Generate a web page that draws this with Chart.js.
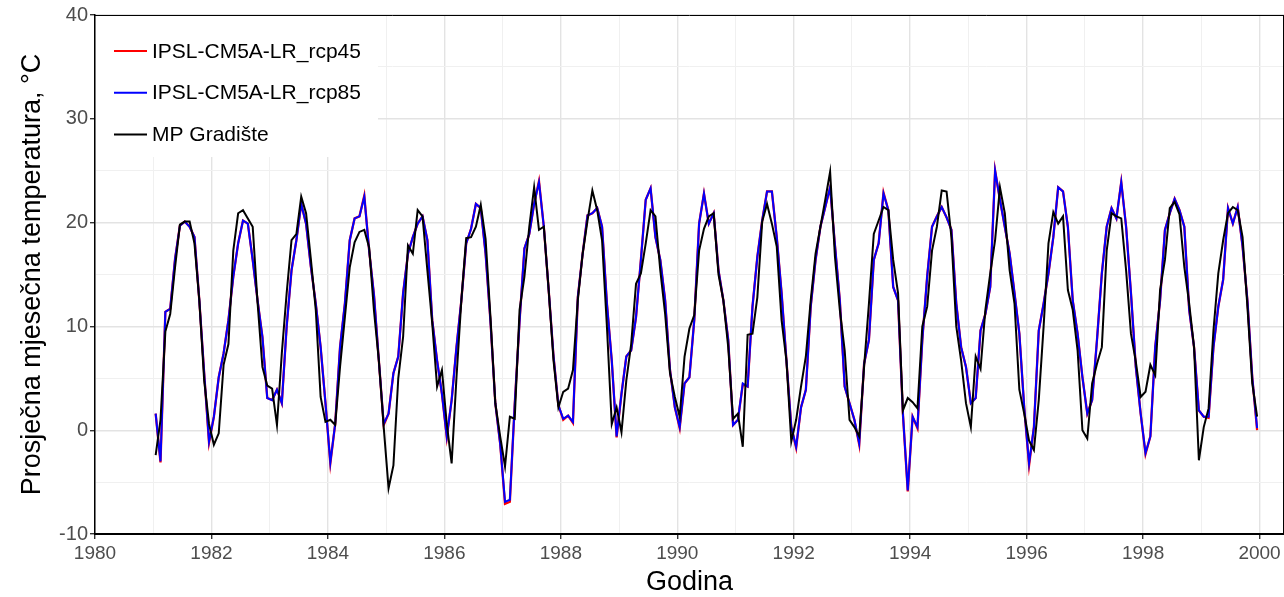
<!DOCTYPE html>
<html>
<head>
<meta charset="utf-8">
<script src="https://cdn.jsdelivr.net/npm/chart.js@4.4.1/dist/chart.umd.min.js"></script>
<style>
  html, body { margin: 0; padding: 0; background: #fff; }
  #wrap { width: 1284px; height: 597px; }
</style>
</head>
<body>
<div id="wrap"><canvas id="myChart" width="1284" height="597"></canvas></div>
<script>
const ctx = document.getElementById('myChart');

const years = [1981, 1982, 1983, 1984, 1985, 1986, 1987, 1988, 1989, 1990,
  1991, 1992, 1993, 1994, 1995, 1996, 1997, 1998, 1999]
const seriesNames = ['IPSL-CM5A-LR_rcp45', 'IPSL-CM5A-LR_rcp85', 'MP Gradište']
const xTicks = [1980, 1982, 1984, 1986, 1988, 1990, 1992, 1994, 1996, 1998, 2000]
const yTicks = [-10, 0, 10, 20, 30, 40]

// monthly means, one row per year (Jan..Dec)
const rcp45 = [
  [1.6, -3.1, 11.4, 11.7, 16.5, 19.7, 20.1, 19.6, 18.6, 12.5, 5.5, -1.2],
  [1.3, 5.1, 7.4, 10.6, 14.8, 18.0, 20.2, 19.9, 16.4, 12.5, 9.0, 3.1],
  [2.9, 3.9, 2.6, 10.0, 15.4, 18.3, 21.8, 19.9, 15.7, 12.2, 8.0, 2.6],
  [-3.2, 0.6, 8.0, 12.2, 18.3, 20.4, 20.6, 22.6, 17.3, 13.0, 6.7, 0.5],
  [1.6, 5.5, 7.1, 13.2, 17.0, 18.6, 19.9, 20.6, 18.3, 10.6, 6.7, 3.5],
  [-0.7, 2.9, 8.0, 12.5, 18.0, 19.4, 21.8, 21.4, 17.0, 10.5, 2.6, -1.3],
  [-7.1, -6.9, 2.5, 10.5, 17.5, 18.9, 21.8, 24.0, 19.6, 13.5, 7.1, 2.4],
  [1.0, 1.4, 0.7, 12.8, 17.0, 20.7, 20.9, 21.4, 19.6, 12.2, 6.7, -0.7],
  [3.5, 7.1, 7.7, 10.9, 16.4, 22.2, 23.3, 18.6, 16.4, 12.5, 5.8, 2.2],
  [0.2, 4.5, 5.1, 10.6, 19.9, 22.8, 19.9, 20.9, 15.4, 12.5, 8.7, 0.5],
  [1.0, 4.4, 4.2, 11.9, 16.7, 20.2, 23.0, 23.0, 18.6, 13.2, 6.7, 0.3],
  [-1.7, 2.2, 3.9, 11.9, 16.4, 19.6, 21.5, 23.4, 17.8, 12.5, 4.2, 2.6],
  [1.0, -1.4, 6.4, 8.7, 16.4, 18.0, 22.9, 21.2, 13.8, 12.5, 1.6, -5.9],
  [1.3, 0.2, 8.7, 14.8, 19.6, 20.6, 21.5, 20.5, 19.3, 12.2, 8.0, 6.1],
  [2.6, 3.1, 9.6, 11.2, 13.8, 25.0, 22.2, 19.6, 17.0, 13.2, 9.3, 2.2],
  [-3.4, 0.3, 9.6, 12.2, 15.1, 18.6, 23.4, 23.0, 19.6, 12.5, 9.3, 5.1],
  [1.6, 2.9, 8.7, 15.1, 19.6, 21.4, 20.4, 23.9, 19.6, 13.2, 6.1, 1.6],
  [-2.3, -0.6, 8.0, 12.5, 19.3, 20.9, 22.3, 21.2, 19.6, 11.6, 8.0, 1.9],
  [1.3, 1.2, 8.0, 11.9, 14.5, 21.4, 19.9, 21.5, 17.7, 12.5, 5.1, 0.0]
]

const rcp85 = [
  [1.6, -3.0, 11.4, 11.7, 16.5, 19.7, 20.1, 19.6, 18.6, 12.5, 5.5, -1.1],
  [1.3, 5.1, 7.4, 10.6, 14.8, 18.0, 20.2, 19.9, 16.4, 12.5, 9.0, 3.1],
  [2.9, 3.9, 2.6, 10.0, 15.4, 18.3, 21.8, 19.9, 15.7, 12.2, 8.0, 2.6],
  [-3.1, 0.6, 8.0, 12.2, 18.3, 20.4, 20.6, 22.5, 17.3, 13.0, 6.7, 0.6],
  [1.6, 5.5, 7.1, 13.2, 17.0, 18.6, 19.9, 20.6, 18.3, 10.6, 6.7, 3.5],
  [-0.6, 2.9, 8.0, 12.5, 18.0, 19.4, 21.8, 21.4, 17.0, 10.5, 2.6, -1.3],
  [-6.9, -6.7, 2.5, 10.5, 17.5, 18.9, 21.8, 23.9, 19.6, 13.5, 7.1, 2.4],
  [1.1, 1.4, 0.8, 12.8, 17.0, 20.7, 20.9, 21.4, 19.6, 12.2, 6.7, -0.6],
  [3.5, 7.1, 7.7, 10.9, 16.4, 22.2, 23.3, 18.6, 16.4, 12.5, 5.8, 2.2],
  [0.3, 4.5, 5.1, 10.6, 19.9, 22.8, 19.9, 20.9, 15.4, 12.5, 8.7, 0.5],
  [1.0, 4.5, 4.2, 11.9, 16.7, 20.2, 23.0, 23.0, 18.6, 13.2, 6.7, 0.3],
  [-1.6, 2.2, 3.9, 11.9, 16.4, 19.6, 21.5, 23.4, 17.8, 12.5, 4.2, 2.6],
  [1.0, -1.3, 6.4, 8.7, 16.4, 18.0, 22.8, 21.2, 13.8, 12.5, 1.6, -5.8],
  [1.3, 0.3, 8.7, 14.8, 19.6, 20.6, 21.5, 20.5, 19.3, 12.2, 8.0, 6.1],
  [2.6, 3.1, 9.6, 11.2, 13.8, 25.0, 22.2, 19.6, 17.0, 13.2, 9.3, 2.2],
  [-3.2, 0.3, 9.6, 12.2, 15.1, 18.6, 23.4, 23.0, 19.6, 12.5, 9.3, 5.1],
  [1.6, 2.9, 8.7, 15.1, 19.6, 21.4, 20.4, 23.9, 19.6, 13.2, 6.1, 1.6],
  [-2.2, -0.6, 8.0, 12.5, 19.3, 20.9, 22.3, 21.2, 19.6, 11.6, 8.0, 1.9],
  [1.3, 1.3, 8.0, 11.9, 14.5, 21.4, 19.9, 21.5, 17.7, 12.5, 5.1, 0.2]
]

const gradiste = [
  [-2.4, 1.0, 9.5, 11.2, 15.7, 19.8, 20.1, 20.1, 18.0, 12.5, 4.8, 0.6],
  [-1.4, -0.3, 6.3, 8.3, 17.3, 20.9, 21.2, 20.4, 19.6, 12.3, 6.1, 4.3],
  [4.0, 0.5, 7.4, 13.2, 18.3, 18.9, 22.5, 20.9, 16.4, 11.6, 3.2, 0.8],
  [1.0, 0.5, 6.1, 10.9, 15.7, 18.1, 19.1, 19.3, 17.6, 11.5, 6.7, 0.3],
  [-5.6, -3.4, 5.0, 9.0, 17.8, 17.0, 21.2, 20.6, 15.4, 10.3, 4.2, 5.8],
  [0.6, -3.2, 5.1, 12.5, 18.5, 18.6, 19.6, 21.7, 18.4, 10.9, 2.6, -0.6],
  [-3.5, 1.3, 1.1, 11.6, 14.8, 19.6, 23.4, 19.3, 19.6, 13.5, 6.7, 2.2],
  [3.7, 4.0, 5.8, 12.5, 17.0, 20.2, 23.1, 21.2, 18.3, 10.0, 0.6, 2.2],
  [-0.2, 4.8, 8.3, 14.1, 15.1, 18.0, 21.2, 20.6, 15.4, 11.2, 5.5, 3.2],
  [1.3, 7.1, 9.8, 11.1, 17.3, 19.4, 20.6, 20.9, 15.0, 12.5, 8.0, 1.1],
  [1.6, -1.6, 9.2, 9.3, 12.8, 20.1, 21.8, 19.9, 17.7, 10.6, 6.7, -1.1],
  [1.0, 4.2, 7.1, 12.5, 17.0, 19.6, 22.2, 24.9, 16.7, 11.6, 7.7, 1.0],
  [0.3, -0.6, 6.1, 12.2, 18.9, 20.2, 21.5, 21.2, 16.4, 13.2, 1.9, 3.1],
  [2.7, 2.1, 10.0, 11.9, 17.3, 19.6, 23.1, 23.0, 18.6, 10.0, 6.7, 2.6],
  [0.3, 7.1, 5.9, 11.6, 15.1, 18.3, 23.4, 20.9, 15.4, 12.2, 3.9, 1.6],
  [-1.0, -1.9, 2.9, 10.0, 18.0, 21.0, 19.9, 20.6, 13.5, 11.6, 7.7, 0.0],
  [-0.8, 4.5, 6.4, 8.0, 17.3, 20.9, 20.6, 20.4, 15.4, 9.3, 6.6, 3.2],
  [3.7, 6.3, 5.3, 13.5, 16.4, 21.4, 22.0, 20.8, 15.7, 12.2, 8.0, -2.9],
  [0.3, 2.1, 9.6, 15.1, 18.3, 20.9, 21.5, 21.2, 18.6, 11.9, 4.5, 1.3]
]

const seriesColors = ['#ff0000', '#0000ff', '#000000']
const fontFamily = '"Liberation Sans", Arial, sans-serif'

function toPoints(rows) {
  const pts = []
  rows.forEach((row, i) => {
    row.forEach((v, m) => {
      pts.push({ x: years[i] + (m + 0.5) / 12, y: v })
    })
  })
  return pts
}

// legend box sitting inside the panel + top/right panel border
const panelExtras = {
  id: 'panelExtras',
  afterDraw(chart) {
    const c = chart.ctx
    const a = chart.chartArea
    c.save()
    c.strokeStyle = '#000'
    c.lineWidth = 1
    c.beginPath()
    c.moveTo(a.left, a.top + 0.5)
    c.lineTo(a.right, a.top + 0.5)
    c.moveTo(a.right - 0.5, a.top)
    c.lineTo(a.right - 0.5, a.bottom)
    c.stroke()

    c.fillStyle = '#fff'
    c.fillRect(a.left + 1, a.top + 1, 282, 141)
    c.font = '21px ' + fontFamily
    c.textBaseline = 'middle'
    seriesNames.forEach((name, i) => {
      const y = 51 + i * 41.7
      c.strokeStyle = seriesColors[i]
      c.lineWidth = 2
      c.beginPath()
      c.moveTo(114, y)
      c.lineTo(147, y)
      c.stroke()
      c.fillStyle = '#000'
      c.fillText(name, 152, y + 1)
    })
    c.restore()
  }
}

function isMajorY(v) { return yTicks.includes(v) }

new Chart(ctx, {
  type: 'line',
  data: {
    datasets: [
      { label: seriesNames[2], data: toPoints(gradiste), borderColor: seriesColors[2], borderWidth: 2, order: 0 },
      { label: seriesNames[1], data: toPoints(rcp85), borderColor: seriesColors[1], borderWidth: 2, order: 1 },
      { label: seriesNames[0], data: toPoints(rcp45), borderColor: seriesColors[0], borderWidth: 2.3, order: 2 }
    ]
  },
  options: {
    responsive: false,
    animation: false,
    elements: { point: { radius: 0 }, line: { tension: 0, fill: false } },
    layout: { padding: { top: 15, right: 0, left: 0, bottom: 0 } },
    plugins: { legend: { display: false }, tooltip: { enabled: false } },
    scales: {
      x: {
        type: 'linear',
        min: 1980,
        max: 2000.42,
        ticks: {
          stepSize: 1,
          includeBounds: false,
          autoSkip: false,
          maxRotation: 0,
          color: '#4d4d4d',
          font: { family: fontFamily, size: 19 },
          padding: 3,
          callback: v => xTicks.includes(v) ? String(v) : ''
        },
        grid: {
          color: c => c.tick.value % 2 === 0 ? '#e3e3e3' : '#f0f0f0',
          lineWidth: c => c.tick.value % 2 === 0 ? 1.4 : 1,
          tickColor: c => c.tick.value % 2 === 0 ? '#333' : 'rgba(0,0,0,0)',
          tickLength: 5
        },
        border: { display: true, color: '#000', width: 2 },
        title: {
          display: true,
          text: 'Godina',
          color: '#000',
          font: { family: fontFamily, size: 27, lineHeight: 1.1 },
          padding: { top: 0, bottom: 0 }
        },
        afterFit: s => { s.height = 63 }
      },
      y: {
        min: -10,
        max: 40,
        ticks: {
          stepSize: 5,
          color: '#4d4d4d',
          font: { family: fontFamily, size: 20 },
          padding: 2,
          callback: v => isMajorY(v) ? String(v) : ''
        },
        grid: {
          color: c => isMajorY(c.tick.value) ? '#e3e3e3' : '#f0f0f0',
          lineWidth: c => isMajorY(c.tick.value) ? 1.4 : 1,
          tickColor: c => isMajorY(c.tick.value) ? '#333' : 'rgba(0,0,0,0)',
          tickLength: 5
        },
        border: { display: true, color: '#000', width: 1.5 },
        title: {
          display: true,
          text: 'Prosječna mjesečna temperatura, °C',
          color: '#000',
          font: { family: fontFamily, size: 27, lineHeight: 1.2 },
          padding: { top: 16, bottom: 0 }
        },
        afterFit: s => { s.width = 95 }
      }
    }
  },
  plugins: [panelExtras]
});
</script>
</body>
</html>
